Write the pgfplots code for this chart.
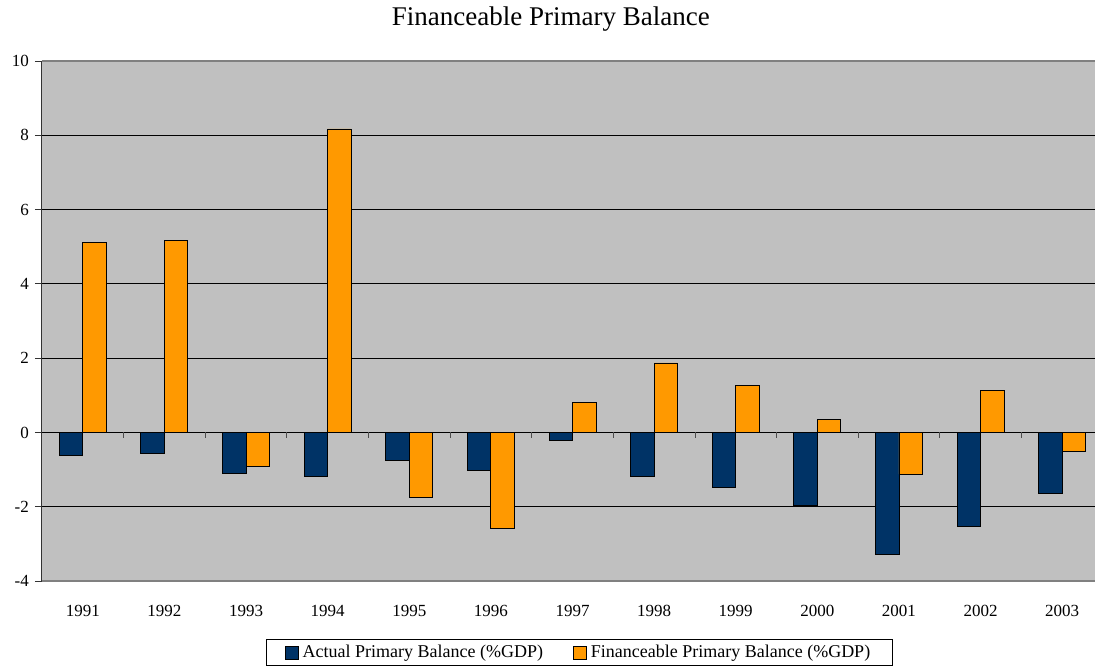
\documentclass[border=0pt]{standalone}
\usepackage{fontspec}
\setmainfont{Liberation Serif}
\usepackage{pgfplots}
\usepackage{pgfplotstable}
\pgfplotsset{compat=1.18}
\definecolor{navy}{HTML}{003366}
\definecolor{orng}{HTML}{FF9900}
\definecolor{plotgray}{HTML}{C0C0C0}
\definecolor{bordergray}{HTML}{808080}

\pgfplotstableread{
x actual fin
0  -0.62  5.11
1  -0.56  5.16
2  -1.10 -0.92
3  -1.19  8.17
4  -0.76 -1.75
5  -1.02 -2.59
6  -0.21  0.80
7  -1.18  1.87
8  -1.48  1.26
9  -1.97  0.34
10 -3.28 -1.12
11 -2.53  1.14
12 -1.64 -0.52
}\datatable

\begin{document}
\begin{tikzpicture}[x=1pt,y=1pt]
\useasboundingbox (-42,-84) rectangle (1053,581);
\begin{axis}[
  at={(0,0)}, anchor=south west,
  scale only axis, width=1061pt, height=520pt,
  xmin=-0.5, xmax=12.5, ymin=-4, ymax=10,
  axis background/.style={fill=plotgray},
  separate axis lines,
  x axis line style={draw=bordergray, line width=1.2pt},
  y axis line style={draw=black!80, line width=1pt},
  ytick={-4,-2,0,2,4,6,8,10},
  yticklabels={-4,-2,0,2,4,6,8,10},
  ytick pos=left,
  tick align=outside,
  major tick length=7pt,
  ytick style={draw=black!80, line width=0.8pt},
  xtick={0,...,12},
  xticklabels={1991,1992,1993,1994,1995,1996,1997,1998,1999,2000,2001,2002,2003},
  xtick style={draw=none},
  x tick label style={font=\fontsize{17}{20}\selectfont, anchor=center, yshift=-23pt},
  y tick label style={font=\fontsize{17}{20}\selectfont, anchor=east, inner sep=0pt, xshift=-6pt},
  ymajorgrids,
  grid style={draw=black, line width=0.8pt},
  title={Financeable Primary Balance},
  title style={font=\fontsize{27}{32}\selectfont, at={(rel axis cs:0.4795,1)}, anchor=center, yshift=36pt},
  ybar=0pt, bar width=23.5pt,
  legend columns=2,
  legend style={at={(rel axis cs:0.5066,0)}, anchor=north, yshift=-58pt,
    draw=black, fill=white, line width=0.8pt,
    font=\fontsize{18}{21}\selectfont,
    inner xsep=18pt, inner ysep=4pt,
    nodes={inner xsep=4pt},
    /tikz/every even column/.append style={column sep=26pt}},
  legend image code/.code={\draw[#1, draw=black, line width=0.8pt] (0pt,-6.5pt) rectangle (13pt,6.5pt);},
  legend cell align=left,
]
\addplot[fill=navy, draw=black, line width=0.9pt] table[x=x, y=actual] {\datatable};
\addlegendentry{Actual Primary Balance (\%GDP)}
\addplot[fill=orng, draw=black, line width=0.9pt] table[x=x, y=fin] {\datatable};
\addlegendentry{Financeable Primary Balance (\%GDP)}
\end{axis}
\begin{axis}[
  at={(0,0)}, anchor=south west,
  scale only axis, width=1061pt, height=520pt,
  xmin=-0.5, xmax=12.5, ymin=-4, ymax=10,
  axis x line=middle, axis y line=none,
  x axis line style={draw=none},
  xtick={0.5,1.5,...,11.5},
  xticklabels={},
  ytick=\empty,
  tick align=outside,
  major tick length=5.5pt,
  xtick style={draw=black!70, line width=0.8pt},
]
\end{axis}
\end{tikzpicture}
\end{document}
